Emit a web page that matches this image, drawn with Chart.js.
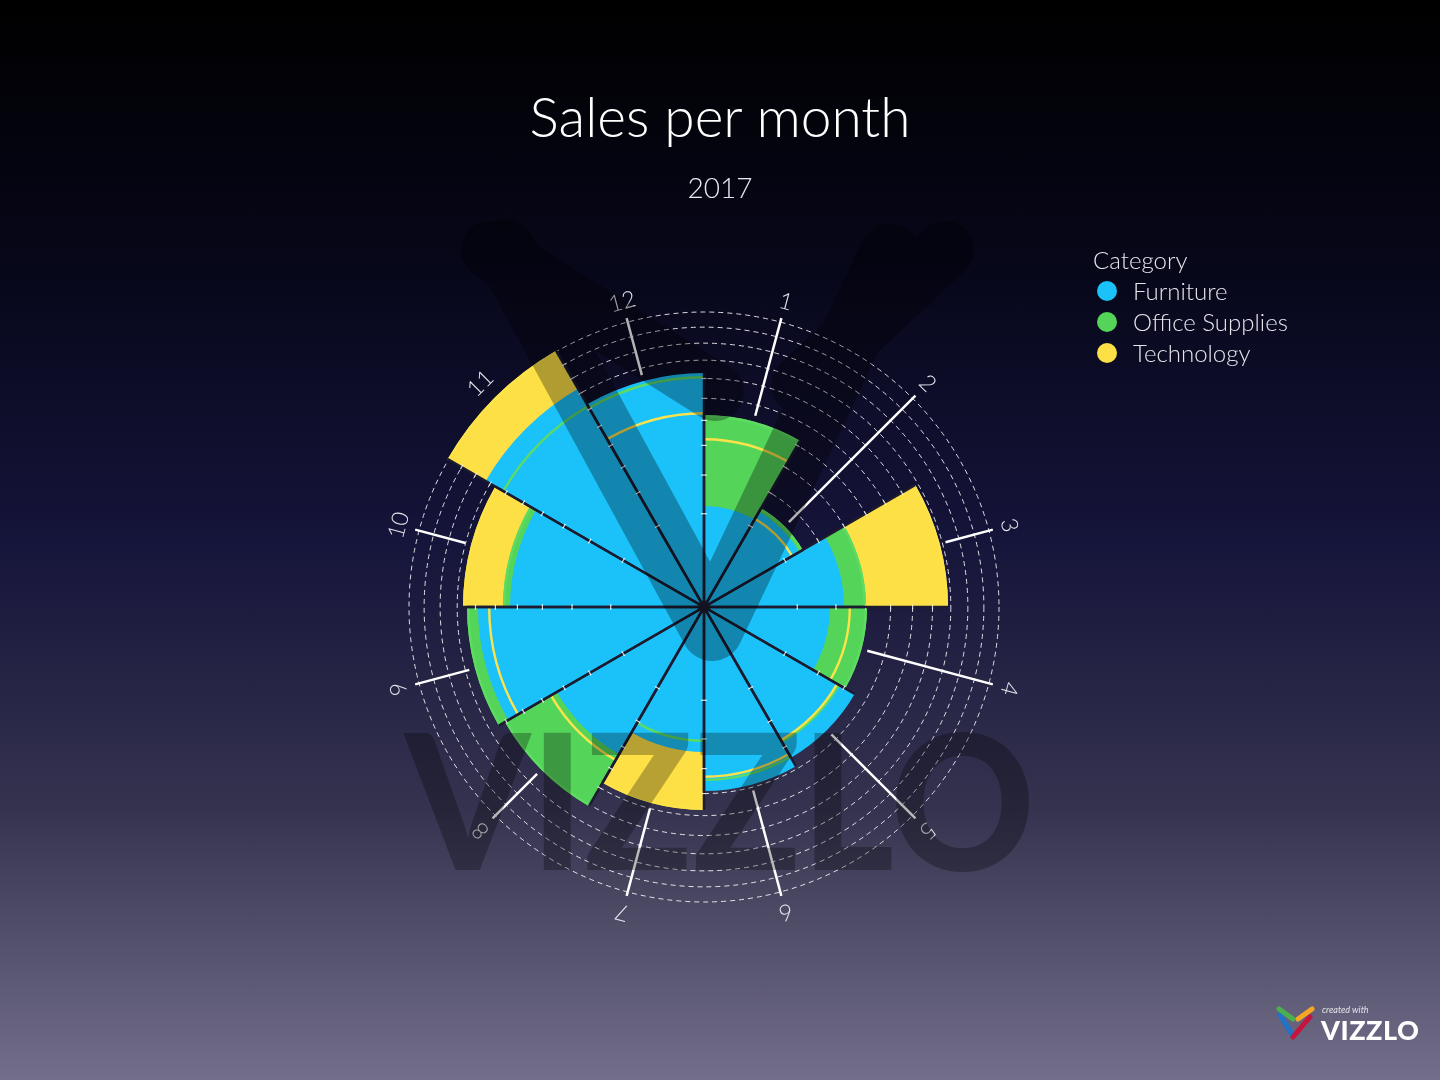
<!DOCTYPE html>
<html>
<head>
<meta charset="utf-8">
<title>Sales per month</title>
<script src="https://cdn.jsdelivr.net/npm/chart.js@4.4.1/dist/chart.umd.min.js"></script>
<style>
  html, body {
    margin: 0;
    padding: 0;
    width: 1440px;
    height: 1080px;
    overflow: hidden;
    font-family: Lato, "Open Sans", sans-serif;
  }
  body {
    position: relative;
    background: linear-gradient(to bottom, #000000 0%, #07071a 25%, #15143a 50%, #35334f 75%, #736f8a 100%);
  }
  #chart {
    position: absolute;
    left: 0;
    top: 0;
  }
  .title {
    position: absolute;
    left: 0;
    width: 1440px;
    text-align: center;
    color: #ffffff;
    font-weight: 300;
    line-height: 1;
  }
  #mainTitle { top: 89px; font-size: 55px; }
  #subTitle { top: 173px; font-size: 28px; color: #e8e8ee; }
  #legend {
    position: absolute;
    left: 1093px;
    top: 244px;
    color: #e6e6ec;
    font-weight: 300;
    font-size: 24px;
    line-height: 31px;
  }
  #legend .item { display: flex; align-items: center; }
  #legend .dot {
    width: 20px;
    height: 20px;
    border-radius: 50%;
    margin: 0 16px 0 4px;
  }
  #watermark {
    position: absolute;
    left: 0;
    top: 0;
    pointer-events: none;
  }
  #badge {
    position: absolute;
    left: 1276px;
    top: 1004px;
    color: #fff;
  }
  #badge .small {
    position: absolute;
    left: 46px;
    top: 0px;
    font-size: 9px;
    font-style: italic;
    white-space: nowrap;
    color: #e4e4ea;
  }
  #badge .big {
    position: absolute;
    left: 45px;
    top: 9px;
    font-size: 27px;
    font-weight: 900;
    letter-spacing: 0.5px;
    white-space: nowrap;
  }
</style>
</head>
<body>
<canvas id="chart" width="1440" height="1080"></canvas>

<div id="mainTitle" class="title">Sales per month</div>
<div id="subTitle" class="title">2017</div>

<div id="legend">
  <div>Category</div>
</div>

<svg id="watermark" width="1440" height="1080">
  <g opacity="0.3">
    <path d="M505 250 L712 630 L890 255" fill="none" stroke="#000" stroke-width="62" stroke-linecap="round" stroke-linejoin="round"/>
    <path d="M490 250 L715 392" fill="none" stroke="#000" stroke-width="58" stroke-linecap="round"/>
    <path d="M945 250 L800 385" fill="none" stroke="#000" stroke-width="58" stroke-linecap="round"/>
  </g>
  <text x="720" y="870" font-family="Lato" font-weight="900" font-size="188" text-anchor="middle" textLength="630" lengthAdjust="spacingAndGlyphs" fill="#000" opacity="0.28">VIZZLO</text>
</svg>

<div id="badge">
  <svg width="44" height="40">
    <g fill="none" stroke-width="5" stroke-linecap="round">
      <line x1="4" y1="11" x2="17" y2="32" stroke="#1f73c8"/>
      <line x1="17" y1="33" x2="34" y2="13" stroke="#c8143c"/>
      <line x1="3" y1="5" x2="17" y2="15" stroke="#4cae4f"/>
      <line x1="36" y1="5" x2="22" y2="15" stroke="#f5a623"/>
    </g>
  </svg>
  <div class="small">created with</div>
  <div class="big">VIZZLO</div>
</div>

<script>
// months 1..12 of 2017, values are sales per category
const months = ["1", "2", "3", "4", "5", "6", "7", "8", "9", "10", "11", "12"];
const categories = ["Furniture", "Office Supplies", "Technology"];
const furniture = [5860, 6950, 11260, 9120, 17400, 19450, 12080, 16600, 29350, 21620, 36490, 31460];
const officeSupplies = [21180, 7470, 15080, 15270, 14160, 17400, 10470, 30390, 32270, 23210, 31190, 30660];
const technology = [16410, 6100, 34210, 12420, 13800, 16800, 23680, 18200, 26810, 33370, 50340, 21850];
const gridMax = 50000;
const gridStep = 5000;

const colors = ["#1bc1f9", "#54d55a", "#fde046"];
const lineColors = ["#1bc1f9", "#5edc62", "#fde34a"];

// legend
const legendBox = document.getElementById("legend");
categories.forEach((c, i) => {
  const row = document.createElement("div");
  row.className = "item";
  row.innerHTML = '<span class="dot" style="background:' + colors[i] + '"></span><span>' + c + '</span>';
  legendBox.appendChild(row);
});

// radial scale where the area (not the radius) follows the value
class SqrtRadialScale extends Chart.RadialLinearScale {
  getDistanceFromCenterForValue(value) {
    if (isNaN(value)) return NaN;
    const frac = Math.max(0, (value - this.min) / (this.max - this.min));
    return this.drawingArea * Math.sqrt(frac);
  }
}
SqrtRadialScale.id = "sqrtRadial";
Chart.register(SqrtRadialScale);

const roseExtras = {
  id: "roseExtras",
  afterDatasetsDraw(chart) {
    const ctx = chart.ctx;
    const scale = chart.scales.r;
    const cx = scale.xCenter;
    const cy = scale.yCenter;
    const R = scale.drawingArea;
    const metas = [0, 1, 2].map(i => chart.getDatasetMeta(i));
    const gridR = scale.ticks.filter(t => t.value > 0).map(t => scale.getDistanceFromCenterForValue(t.value));

    ctx.save();

    // outer edges of the layers that sit under the furniture fill
    [1, 2].forEach(d => {
      metas[d].data.forEach(arc => {
        ctx.beginPath();
        ctx.arc(arc.x, arc.y, arc.outerRadius - 1.2, arc.startAngle, arc.endAngle);
        ctx.strokeStyle = lineColors[d];
        ctx.lineWidth = 2.4;
        ctx.stroke();
      });
    });

    for (let i = 0; i < months.length; i++) {
      const arcs = metas.map(m => m.data[i]);
      const maxR = Math.max(...arcs.map(a => a.outerRadius));
      const a0 = arcs[0].startAngle;
      const a1 = arcs[0].endAngle;

      // dark separators
      [a0, a1].forEach(a => {
        ctx.beginPath();
        ctx.moveTo(cx, cy);
        ctx.lineTo(cx + maxR * Math.cos(a), cy + maxR * Math.sin(a));
        ctx.strokeStyle = "#1c1b2f";
        ctx.lineWidth = 2.5;
        ctx.stroke();

        // little marks where the grid circles cross
        ctx.strokeStyle = "rgba(255,255,255,0.8)";
        ctx.lineWidth = 1.2;
        gridR.forEach(r => {
          if (r > maxR - 3) return;
          const px = cx + r * Math.cos(a);
          const py = cy + r * Math.sin(a);
          const nx = -Math.sin(a) * 2.5;
          const ny = Math.cos(a) * 2.5;
          ctx.beginPath();
          ctx.moveTo(px - nx, py - ny);
          ctx.lineTo(px + nx, py + ny);
          ctx.stroke();
        });
      });

      // month tick line + label
      const mid = (a0 + a1) / 2;
      const r0 = maxR + 6;
      const r1 = R + 4;
      if (r0 < r1) {
        ctx.beginPath();
        ctx.moveTo(cx + r0 * Math.cos(mid), cy + r0 * Math.sin(mid));
        ctx.lineTo(cx + r1 * Math.cos(mid), cy + r1 * Math.sin(mid));
        ctx.strokeStyle = "#ffffff";
        ctx.lineWidth = 2.5;
        ctx.stroke();
      }
      const rl = R + 21;
      ctx.save();
      ctx.translate(cx + rl * Math.cos(mid), cy + rl * Math.sin(mid));
      ctx.rotate(mid + Math.PI / 2);
      ctx.fillStyle = "#e4e4ec";
      ctx.font = "300 23px Lato";
      ctx.textAlign = "center";
      ctx.textBaseline = "middle";
      ctx.fillText(months[i], 0, 0);
      ctx.restore();
    }

    // hub
    ctx.beginPath();
    ctx.arc(cx, cy, 6, 0, Math.PI * 2);
    ctx.fillStyle = "#1c1b2f";
    ctx.fill();

    ctx.restore();
  }
};

new Chart(document.getElementById("chart"), {
  type: "polarArea",
  data: {
    labels: months,
    datasets: [
      { label: categories[0], data: furniture, backgroundColor: colors[0], borderWidth: 0 },
      { label: categories[1], data: officeSupplies, backgroundColor: colors[1], borderWidth: 0 },
      { label: categories[2], data: technology, backgroundColor: colors[2], borderWidth: 0 }
    ]
  },
  options: {
    responsive: false,
    animation: false,
    layout: {
      padding: { left: 409, right: 441, top: 312, bottom: 178 }
    },
    scales: {
      r: {
        type: "sqrtRadial",
        min: 0,
        max: gridMax,
        startAngle: 0,
        ticks: { display: false, stepSize: gridStep },
        pointLabels: { display: false },
        angleLines: { display: false },
        grid: { circular: true, color: "rgba(255,255,255,0.85)", lineWidth: 1 },
        border: { dash: [5, 4] }
      }
    },
    plugins: {
      legend: { display: false },
      tooltip: { enabled: false }
    }
  },
  plugins: [roseExtras]
});
</script>
</body>
</html>
